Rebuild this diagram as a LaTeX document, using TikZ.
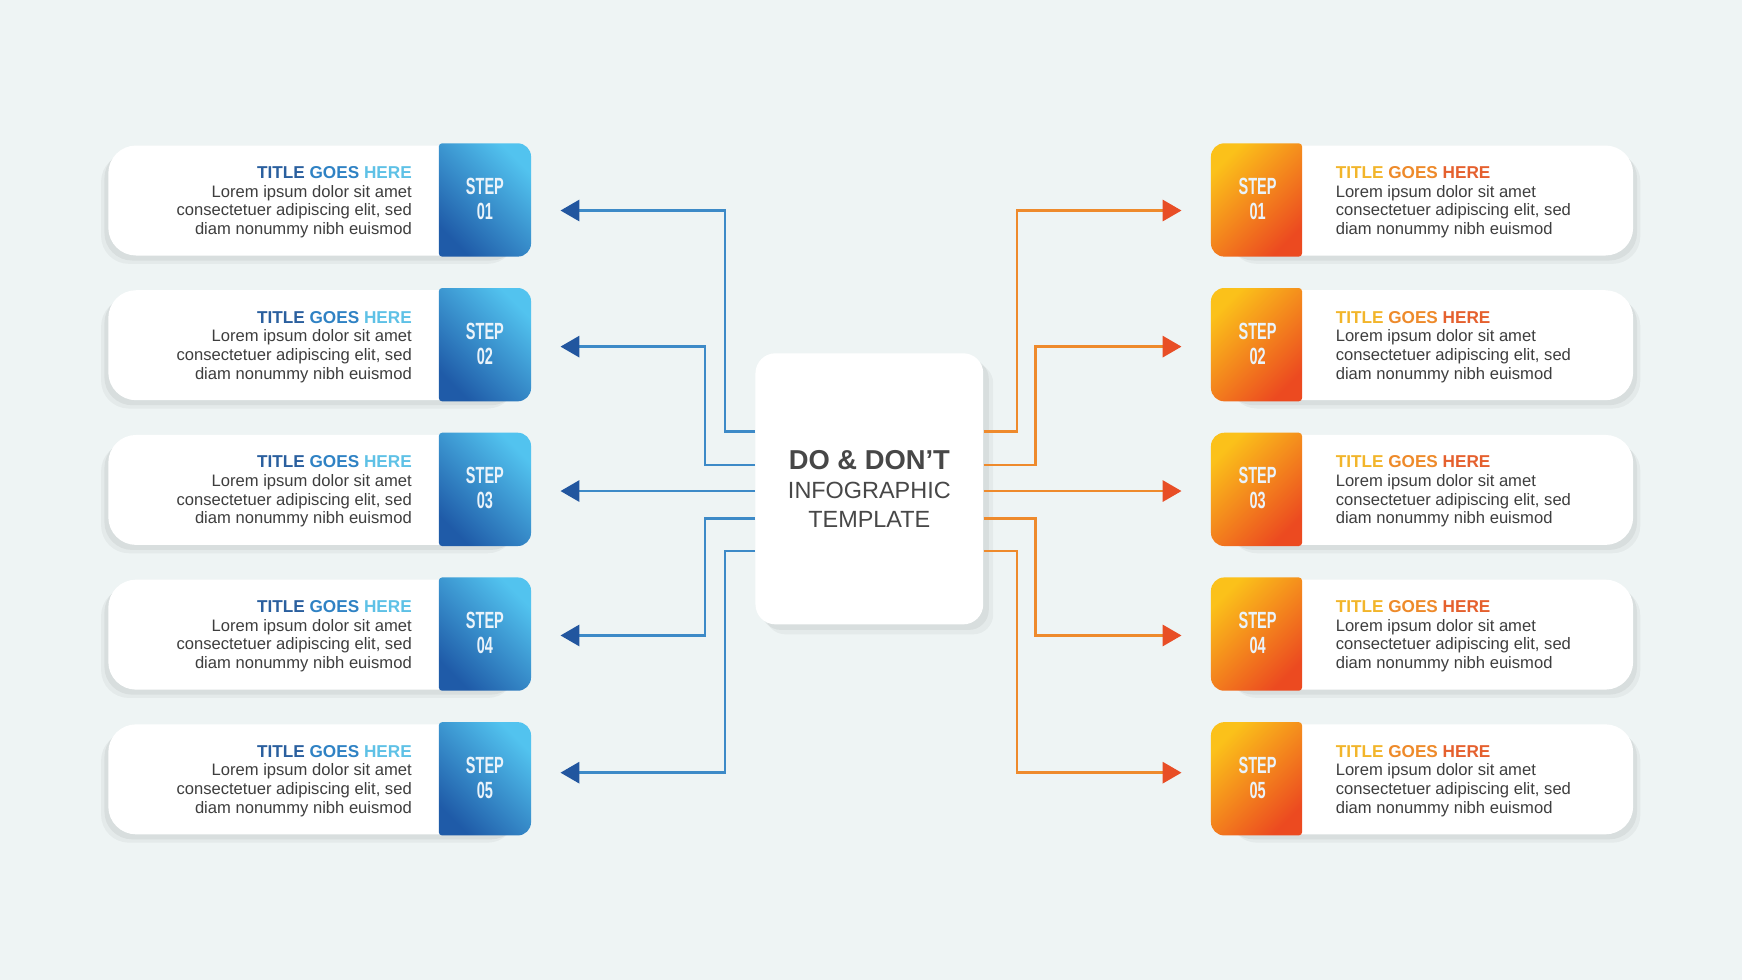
\documentclass[tikz,border=0pt]{standalone}
\usepackage{fontspec}
\setmainfont{Liberation Sans}
\newfontfamily\condfont{Liberation Sans}[FakeStretch=0.62]
\usetikzlibrary{arrows.meta,calc,shadows}

\definecolor{bgcol}{HTML}{EEF4F4}
\definecolor{bodytext}{HTML}{3E3E3E}
\definecolor{centertext}{HTML}{474747}
\definecolor{steptext}{HTML}{EAF3FA}
\definecolor{bluedark}{HTML}{1F5BA8}
\definecolor{bluemid}{HTML}{2E86CC}
\definecolor{bluelight}{HTML}{52C3EF}
\definecolor{blueline}{HTML}{3D8AC7}
\definecolor{bluetip}{HTML}{22569F}
\definecolor{orangeyellow}{HTML}{FBC11A}
\definecolor{orangemid}{HTML}{F5901C}
\definecolor{orangered}{HTML}{EC4A20}
\definecolor{orangeline}{HTML}{EE8A2C}
\definecolor{orangetip}{HTML}{E84E26}
\definecolor{tblue1}{HTML}{2A5F9E}
\definecolor{tblue2}{HTML}{2F82C4}
\definecolor{tblue3}{HTML}{5EC1E6}
\definecolor{torange1}{HTML}{F2B52A}
\definecolor{torange2}{HTML}{EE8A2A}
\definecolor{torange3}{HTML}{E5602E}

\begin{document}
\begin{tikzpicture}[x=0.2mm, y=-0.2mm,
    wbox/.style={fill=white, rounded corners=5mm, minimum height=19.8mm, inner sep=0pt},
    dobox/.style={wbox, minimum width=74.6mm,
        general shadow={shadow xshift=-1.3mm, shadow yshift=-1.5mm, fill=black, opacity=0.04},
        general shadow={shadow xshift=-0.7mm, shadow yshift=-0.9mm, fill=black, opacity=0.05}},
    dontbox/.style={wbox, minimum width=74mm,
        general shadow={shadow xshift=1.3mm, shadow yshift=-1.5mm, fill=black, opacity=0.04},
        general shadow={shadow xshift=0.7mm, shadow yshift=-0.9mm, fill=black, opacity=0.05}},
    bluegrad/.style={top color=bluelight, middle color=bluemid, bottom color=bluedark, shading angle=-45},
    orangegrad/.style={top color=orangeyellow, middle color=orangemid, bottom color=orangered, shading angle=45},
    steplabel/.style={text=steptext, align=center, inner sep=0pt, font=\condfont\bfseries\fontsize{12}{12.8}\selectfont},
    dotext/.style={anchor=east, align=right, inner sep=0pt, text=bodytext, font=\fontsize{8.5}{9.6}\selectfont},
    donttext/.style={anchor=west, align=left, inner sep=0pt, text=bodytext, font=\fontsize{8.5}{9.6}\selectfont},
    centerbox/.style={fill=white, rounded corners=3.6mm, minimum width=41mm, minimum height=48.8mm,
        align=center, text=centertext, font=\fontsize{12}{15}\selectfont,
        general shadow={shadow xshift=1.8mm, shadow yshift=-1.8mm, fill=black, opacity=0.04},
        general shadow={shadow xshift=1mm, shadow yshift=-1mm, fill=black, opacity=0.05}},
    bline/.style={draw=blueline, line width=1.4pt, -{Triangle[length=3.4mm, width=3.8mm, color=bluetip]}},
    oline/.style={draw=orangeline, line width=1.4pt, -{Triangle[length=3.4mm, width=3.8mm, color=orangetip]}}
]

    \fill[bgcol] (0,0) rectangle (1568,882);
    \useasboundingbox (0,0) rectangle (1568,882);

    % rows, do on the left and don't on the right
    \foreach \i in {1,...,5} {
        \pgfmathsetmacro{\cy}{180.5+130.25*(\i-1)}
        \pgfmathsetmacro{\ytop}{\cy-51.5}
        \pgfmathsetmacro{\ybot}{\cy+50.5}

        \node[dobox] (Lb\i) at (284,\cy) {};
        \shade[bluegrad] (398,\ytop) -- (466,\ytop) .. controls (472.6,\ytop) and (478,\ytop+5.4) .. (478,\ytop+12)
            -- (478,\ybot-12) .. controls (478,\ybot-5.4) and (472.6,\ybot) .. (466,\ybot)
            -- (398,\ybot) .. controls (396.3,\ybot) and (395,\ybot-1.3) .. (395,\ybot-3)
            -- (395,\ytop+3) .. controls (395,\ytop+1.3) and (396.3,\ytop) .. (398,\ytop) -- cycle;
        \node[steplabel] (Ls\i) at (436.5,\cy-1.5) {STEP\\0\i};
        \node[dotext] (Lt\i) at (371,\cy+1.5)
            {{\fontsize{8.8}{9.6}\selectfont\bfseries\color{tblue1}TITLE \color{tblue2}GOES \color{tblue3}HERE}\\
             Lorem ipsum dolor sit amet\\consectetuer adipiscing elit, sed\\diam nonummy nibh euismod};

        \node[dontbox] (Rb\i) at (1285,\cy) {};
        \shade[orangegrad] (1102,\ytop) -- (1169,\ytop) .. controls (1170.7,\ytop) and (1172,\ytop+1.3) .. (1172,\ytop+3)
            -- (1172,\ybot-3) .. controls (1172,\ybot-1.3) and (1170.7,\ybot) .. (1169,\ybot)
            -- (1102,\ybot) .. controls (1095.4,\ybot) and (1090,\ybot-5.4) .. (1090,\ybot-12)
            -- (1090,\ytop+12) .. controls (1090,\ytop+5.4) and (1095.4,\ytop) .. (1102,\ytop) -- cycle;
        \node[steplabel] (Rs\i) at (1132,\cy-1.5) {STEP\\0\i};
        \node[donttext] (Rt\i) at (1202,\cy+1.5)
            {{\fontsize{8.8}{9.6}\selectfont\bfseries\color{torange1}TITLE \color{torange2}GOES \color{torange3}HERE}\\
             Lorem ipsum dolor sit amet\\consectetuer adipiscing elit, sed\\diam nonummy nibh euismod};
    }

    \node[centerbox] (C) at (782.5,440)
        {{\fontsize{14}{15}\selectfont\bfseries DO \& DON’T}\\INFOGRAPHIC\\TEMPLATE};

    % connectors
    \foreach \i/\dy/\ay/\dl/\dr in {1/-51.5/189.5/27/30, 2/-21.5/312/45/47, 3/2/442/0/0, 4/26.5/572/45/47, 5/56/695.5/27/30} {
        \coordinate (La\i) at (504.5,\ay);
        \coordinate (Ra\i) at (1063.5,\ay);
        \draw[bline] ($(C.west)+(0,\dy)$) -- ++(-\dl,0) |- (La\i);
        \draw[oline] ($(C.east)+(0,\dy)$) -- ++(\dr,0) |- (Ra\i);
    }

\end{tikzpicture}
\end{document}
